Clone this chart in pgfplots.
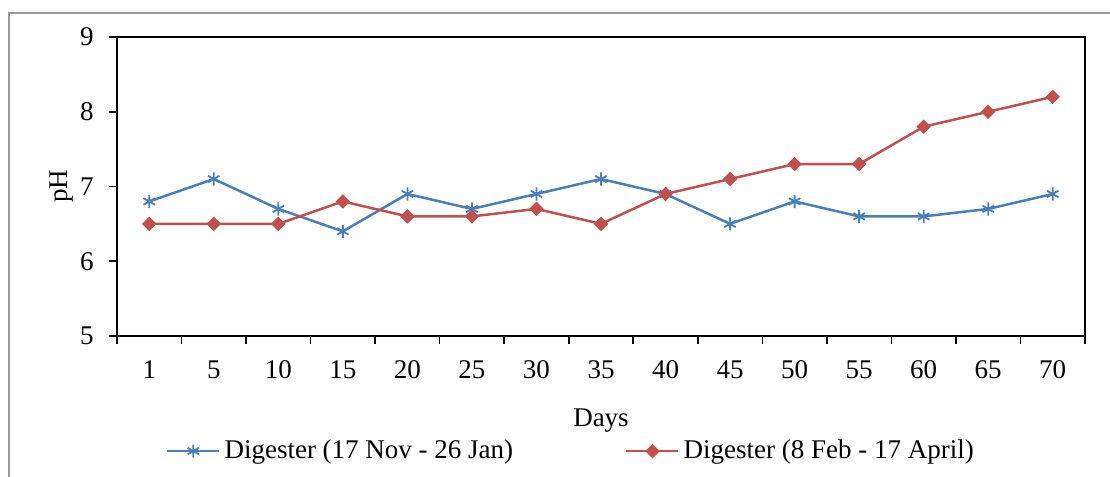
\documentclass[border=0pt]{standalone}
\usepackage{fontspec}
\setmainfont{Liberation Serif}
\usepackage{pgfplots}
\pgfplotsset{compat=1.18}
\definecolor{xlblue}{RGB}{74,126,187}
\definecolor{xlred}{RGB}{192,80,77}
\begin{document}
\fontsize{13.5pt}{16pt}\selectfont
\begin{tikzpicture}
\path[use as bounding box] (0,0) rectangle (555pt,238.5pt);
\draw[gray!80, line width=0.7pt] (4.5pt,-1pt) -- (4.5pt,232pt) -- (556pt,232pt);
\begin{axis}[
  at={(58.5pt,70.5pt)}, anchor=south west,
  scale only axis, width=484pt, height=149.5pt,
  xmin=-0.5, xmax=14.5, ymin=5, ymax=9,
  xtick={0,...,14},
  xticklabels={1,5,10,15,20,25,30,35,40,45,50,55,60,65,70},
  minor xtick={-0.5,0.5,...,14.5},
  ytick={5,6,7,8,9},
  xtick pos=bottom, ytick pos=left,
  major x tick style={draw=none},
  tick align=outside,
  major tick length=4pt, minor tick length=4pt,
  tick style={black, line width=0.8pt},
  axis line style={black, line width=0.8pt},
  xticklabel style={yshift=-3.5pt},
  yticklabel style={xshift=-3pt},
  /pgf/number format/assume math mode=true,
  ticklabel style={font=\fontsize{13.5pt}{16pt}\selectfont},
  label style={font=\fontsize{13.5pt}{16pt}\selectfont},
  xlabel={Days}, xlabel style={at={(0.5,-0.282)}, anchor=center},
  ylabel={pH}, ylabel style={at={(-0.057,0.5)}, anchor=center},
  legend style={at={(0.47,-0.385)}, anchor=center, draw=none, fill=none,
    legend columns=2, font=\fontsize{13.5pt}{16pt}\selectfont,
    /tikz/every even column/.append style={column sep=54pt}},
  legend cell align=left,
  legend image code/.code={\draw[#1] (0pt,0pt) -- (26pt,0pt);
    \draw[#1, mark repeat=1] plot coordinates {(13pt,0pt)};},
]
\addplot[color=xlblue, line width=1.25pt, mark=asterisk, mark size=3.3pt, mark options={line width=0.9pt}]
 coordinates {(0,6.8)(1,7.1)(2,6.7)(3,6.4)(4,6.9)(5,6.7)(6,6.9)(7,7.1)(8,6.9)(9,6.5)(10,6.8)(11,6.6)(12,6.6)(13,6.7)(14,6.9)};
\addlegendentry{Digester (17 Nov - 26 Jan)}
\addplot[color=xlred, line width=1.25pt, mark=square*, mark size=2.3pt, mark options={rotate=45, line width=0.5pt}]
 coordinates {(0,6.5)(1,6.5)(2,6.5)(3,6.8)(4,6.6)(5,6.6)(6,6.7)(7,6.5)(8,6.9)(9,7.1)(10,7.3)(11,7.3)(12,7.8)(13,8.0)(14,8.2)};
\addlegendentry{Digester (8 Feb - 17 April)}
\end{axis}
\end{tikzpicture}
\end{document}
